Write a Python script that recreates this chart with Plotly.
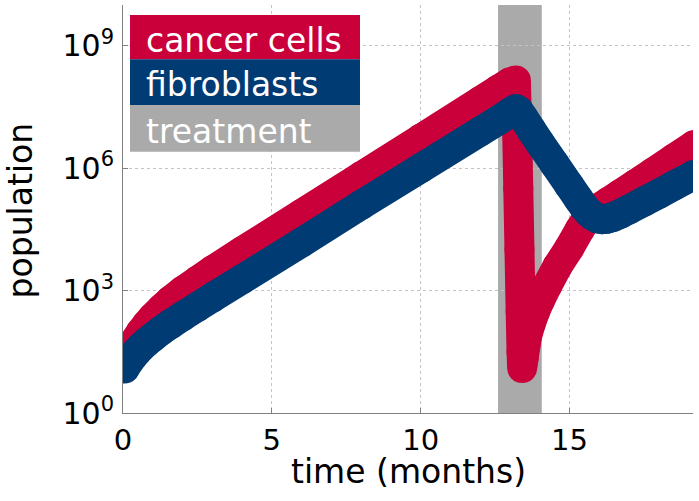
import plotly.graph_objects as go

# ---- data (population given as log10 values) ----
time_cancer = [0, 0.05, 0.1, 0.2, 0.3, 0.45, 0.6, 0.8, 1.0, 1.3,
               1.6, 2.0, 2.5, 3.0, 4.0, 6.0, 8.0, 10.0, 12.0, 12.6,
               13.0, 13.2, 13.24, 13.28, 13.32, 13.36, 13.39, 13.41, 13.46, 13.52,
               13.58, 13.7, 13.85, 14.0, 14.25, 14.6, 15.0, 15.35, 15.6, 15.8,
               16.0, 16.3, 16.7, 17.2, 17.8, 18.5, 19.2]
cancer_log10 = [1.04, 1.16, 1.27, 1.45, 1.61, 1.81, 1.98, 2.17, 2.34, 2.56,
                2.76, 2.99, 3.24, 3.49, 3.96, 4.88, 5.80, 6.72, 7.64, 7.92,
                8.10, 8.15, 7.0, 5.5, 4.0, 2.5, 1.5, 1.1, 1.35, 1.65,
                1.9, 2.2, 2.5, 2.75, 3.12, 3.6, 4.05, 4.5, 4.78, 4.92,
                5.03, 5.17, 5.36, 5.6, 5.89, 6.23, 6.57]
cancer_corners = [13.2, 13.41]   # sharp turns of the curve (peak and minimum)

time_fib = [0, 0.05, 0.1, 0.2, 0.3, 0.45, 0.6, 0.8, 1.0, 1.3,
            1.6, 2.0, 2.5, 3.0, 4.0, 6.0, 8.0, 10.0, 12.0, 12.6,
            13.0, 13.2, 13.3, 13.45, 13.7, 14.0, 14.5, 15.0, 15.3, 15.5,
            15.65, 15.8, 15.95, 16.1, 16.25, 16.45, 16.7, 17.0, 17.5, 18.0,
            18.5, 19.2]
fib_log10 = [1.03, 1.09, 1.15, 1.26, 1.36, 1.49, 1.61, 1.74, 1.86, 2.03,
             2.18, 2.37, 2.60, 2.83, 3.28, 4.18, 5.10, 6.0, 6.9, 7.17,
             7.36, 7.45, 7.40, 7.24, 6.96, 6.63, 6.1, 5.57, 5.25, 5.04,
             4.92, 4.83, 4.77, 4.75, 4.76, 4.8, 4.88, 4.99, 5.18, 5.37,
             5.57, 5.84]
fib_corners = [13.2]

treatment = [12.6, 14.07]

x_ticks = [0, 5, 10, 15]
y_tick_exps = [0, 3, 6, 9]
legend_labels = ["cancer cells", "fibroblasts", "treatment"]

RED = "#C9003A"
BLUE = "#003B73"
GRAY = "#AAAAAA"
FONT = "DejaVu Sans"
LW = 30

fig = go.Figure()
for t, v, corners, col, name in [
        (time_cancer, cancer_log10, cancer_corners, RED, legend_labels[0]),
        (time_fib, fib_log10, fib_corners, BLUE, legend_labels[1])]:
    # split the curve at its sharp corners so no miter spikes appear
    cut = [0] + [t.index(c) for c in corners] + [len(t) - 1]
    for a, b in zip(cut[:-1], cut[1:]):
        fig.add_trace(go.Scatter(x=t[a:b + 1], y=[10 ** e for e in v[a:b + 1]],
                                 mode="lines",
                                 line=dict(color=col, width=LW, simplify=False),
                                 name=name, showlegend=False, hoverinfo="skip"))
    # discs of the line's width at the vertices give round joins
    fig.add_trace(go.Scatter(x=t[1:], y=[10 ** e for e in v[1:]], mode="markers",
                             marker=dict(color=col, size=LW, opacity=1,
                                         line=dict(width=0)),
                             name=name, showlegend=False, hoverinfo="skip"))

# treatment band
fig.add_shape(type="rect", xref="x", yref="paper", x0=treatment[0], x1=treatment[1],
              y0=0, y1=1, fillcolor=GRAY, line=dict(width=0), layer="between")

# custom legend (coloured rows with white text)
row_edges = [0.9755, 0.8669, 0.7549, 0.6404]
text_y = [0.914, 0.806, 0.690]
for i, (lab, col) in enumerate(zip(legend_labels, [RED, BLUE, GRAY])):
    fig.add_shape(type="rect", xref="paper", yref="paper", x0=0.0123, x1=0.4158,
                  y0=row_edges[i + 1], y1=row_edges[i], fillcolor=col,
                  line=dict(width=0), layer="above")
    fig.add_annotation(xref="paper", yref="paper", x=0.0374, y=text_y[i],
                       text=lab, showarrow=False, xanchor="left", yanchor="middle",
                       font=dict(family=FONT, size=33, color="white"))

# axis titles
fig.add_annotation(xref="paper", yref="paper", x=0.5, y=-0.143, text="time (months)",
                   showarrow=False, xanchor="center", yanchor="middle",
                   font=dict(family=FONT, size=33, color="black"))
fig.add_annotation(xref="paper", yref="paper", x=-0.18, y=0.4975, text="population",
                   showarrow=False, textangle=-90, xanchor="center", yanchor="middle",
                   font=dict(family=FONT, size=33, color="black"))

fig.update_xaxes(range=[0, 19.15], tickvals=x_ticks, ticktext=[str(v) for v in x_ticks],
                 showline=True, linecolor="#808080", linewidth=1,
                 ticks="inside", ticklen=5, tickcolor="#808080",
                 showgrid=True, gridcolor="#C4C4C4", griddash="dot", gridwidth=1,
                 zeroline=False, tickfont=dict(family=FONT, size=29, color="black"),
                 ticklabelstandoff=1, automargin=False)
fig.update_yaxes(type="log", range=[0, 10], tickvals=[10 ** e for e in y_tick_exps],
                 ticktext=["10<sup>%d</sup>" % e for e in y_tick_exps],
                 showline=True, linecolor="#808080", linewidth=1,
                 ticks="inside", ticklen=5, tickcolor="#808080",
                 showgrid=True, gridcolor="#C4C4C4", griddash="dot", gridwidth=1,
                 zeroline=False, tickfont=dict(family=FONT, size=30, color="black"),
                 ticklabelstandoff=2, automargin=False)

fig.update_layout(width=699, height=501, margin=dict(l=123, r=6, t=5, b=88),
                  paper_bgcolor="white", plot_bgcolor="white", showlegend=False)

fig.write_html("out.html", config={"displayModeBar": False},
               post_script="document.body.style.margin='0px';")
